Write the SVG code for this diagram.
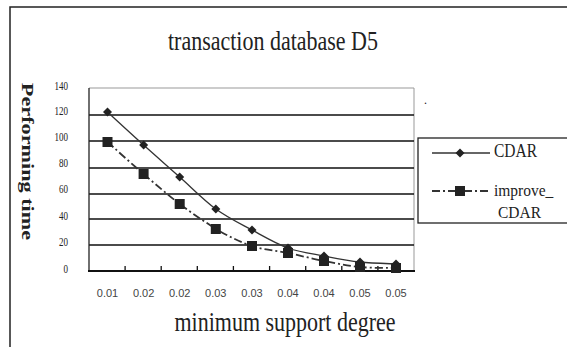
<svg xmlns="http://www.w3.org/2000/svg" width="567" height="347" viewBox="0 0 567 347">
<style>
.serif{font-family:"Liberation Serif","Times New Roman",serif;fill:#222}
.sans{font-family:"Liberation Sans",Arial,sans-serif;fill:#444}
.grid{stroke:#111;stroke-width:1.3;fill:none}
.tick{font-size:9px;text-anchor:end}
.xt{font-size:11px;text-anchor:middle}
.leg{font-size:15.5px}
.cdar{stroke:#333;stroke-width:1.3;fill:none}
.imp{stroke:#333;stroke-width:1.8;fill:none;stroke-dasharray:8 3 2 3}
</style>
<defs>
<polygon id="dia" points="0,-4.5 4.5,0 0,4.5 -4.5,0" fill="#222"/>
<rect id="sq" x="-5" y="-5" width="10" height="10" fill="#222"/>
</defs>
<rect width="567" height="347" fill="#fff"/>
<g id="frame"><path d="M10,347 V7 H567" fill="none" stroke="#222" stroke-width="1.5"/></g>
<g id="title"><text class="serif" font-size="22" text-anchor="middle" transform="translate(273,50) scale(1,1.27)">transaction database D5</text></g>
<g id="y-title"><text class="serif" font-size="17.5" font-weight="bold" text-anchor="middle" transform="translate(22,161.5) scale(1,1.27) rotate(90)">Performing time</text></g>
<g id="plot">
<path d="M89,88 H414 V271" fill="none" stroke="#999" stroke-width="1"/>
<path class="grid" d="M89,115 H414 M89,141 H414 M89,168 H414 M89,194 H414 M89,219 H414 M89,245 H414"/>
<path d="M89,88 V271" stroke="#222" stroke-width="1.3"/>
<path d="M88,271 H415" stroke="#111" stroke-width="2"/>
<path d="M125.1,271 v-5 M161.2,271 v-5 M197.3,271 v-5 M233.4,271 v-5 M269.6,271 v-5 M305.7,271 v-5 M341.8,271 v-5 M377.9,271 v-5" stroke="#111" stroke-width="1.3"/>
<text class="serif" x="427" y="104" font-size="12" text-anchor="end">.</text>
</g>
<g id="y-ticks" class="serif tick">
<text transform="translate(68,90) scale(1,1.27)">140</text>
<text transform="translate(68,115) scale(1,1.27)">120</text>
<text transform="translate(68,141) scale(1,1.27)">100</text>
<text transform="translate(68,167) scale(1,1.27)">80</text>
<text transform="translate(68,193) scale(1,1.27)">60</text>
<text transform="translate(68,220) scale(1,1.27)">40</text>
<text transform="translate(68,246) scale(1,1.27)">20</text>
<text transform="translate(68,273) scale(1,1.27)">0</text>
</g>
<g id="x-ticks" class="sans xt">
<text x="107.5" y="297">0.01</text>
<text x="143.6" y="297">0.02</text>
<text x="179.7" y="297">0.02</text>
<text x="215.8" y="297">0.03</text>
<text x="252" y="297">0.03</text>
<text x="288" y="297">0.04</text>
<text x="324" y="297">0.04</text>
<text x="360" y="297">0.05</text>
<text x="396" y="297">0.05</text>
</g>
<g id="x-title"><text class="serif" font-size="22" text-anchor="middle" transform="translate(285,331) scale(1,1.27)">minimum support degree</text></g>
<g id="series-improve">
<path class="imp" d="M107.5,142 C113.5,147.3 131.6,163.7 143.6,174 C155.6,184.3 167.7,194.8 179.7,204 C191.7,213.2 203.8,221 215.8,229 C227.9,236 240,242 252,246 C264,250 276,250.5 288,253 C300,255.5 312,258.7 324,261 C336,263.3 348,265.8 360,267 C372,268.2 390,267.8 396,268"/>
<use href="#sq" x="107.5" y="142"/><use href="#sq" x="143.6" y="174"/><use href="#sq" x="179.7" y="204"/><use href="#sq" x="215.8" y="229"/><use href="#sq" x="252" y="246"/><use href="#sq" x="288" y="253"/><use href="#sq" x="324" y="261"/><use href="#sq" x="360" y="267"/><use href="#sq" x="396" y="268"/>
</g>
<g id="series-cdar">
<path class="cdar" d="M107.5,112 C113.5,117.5 131.6,134.2 143.6,145 C155.6,155.8 167.7,166.3 179.7,177 C191.7,187.7 203.8,200.2 215.8,209 C227.9,217.8 240,223.5 252,230 C264,236.5 276,243.7 288,248 C300,252.3 312,253.7 324,256 C336,258.3 348,260.7 360,262 C372,263.3 390,263.7 396,264"/>
<use href="#dia" x="107.5" y="112"/><use href="#dia" x="143.6" y="145"/><use href="#dia" x="179.7" y="177"/><use href="#dia" x="215.8" y="209"/><use href="#dia" x="252" y="230"/><use href="#dia" x="288" y="248"/><use href="#dia" x="324" y="256"/><use href="#dia" x="360" y="262"/><use href="#dia" x="396" y="264"/>
</g>
<g id="legend">
<rect x="418" y="138" width="160" height="85" fill="#fff" stroke="#222" stroke-width="1.3"/>
<path class="cdar" d="M432,153 H490"/>
<use href="#dia" x="460" y="153"/>
<path class="imp" d="M432,191 H490"/>
<use href="#sq" x="460" y="191"/>
<text class="serif leg" transform="translate(494,157) scale(1,1.17)">CDAR</text>
<text class="serif leg" transform="translate(494,196) scale(1,1.1)">improve_</text>
<text class="serif leg" transform="translate(498,218) scale(1,1.1)">CDAR</text>
</g>
</svg>
